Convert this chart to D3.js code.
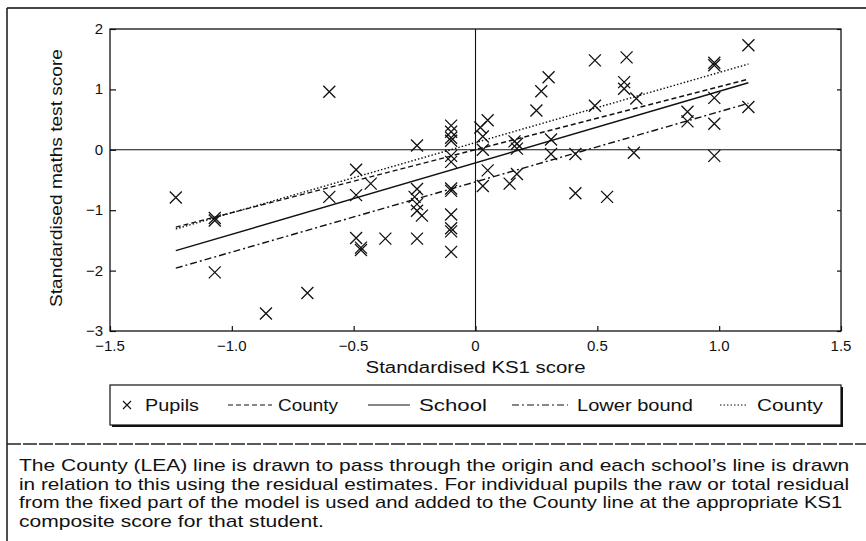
<!DOCTYPE html>
<html><head><meta charset="utf-8">
<script src="https://cdn.jsdelivr.net/npm/d3@7"></script>
<style>
body{margin:0;background:#fff}
svg{display:block}
text{font-family:"Liberation Sans",Arial,Helvetica,sans-serif;fill:#111}
</style>
</head><body>
<svg id="c" width="866" height="541"></svg>
<script>
// ---------- data ----------
const pupilsX = [-1.23,-1.07,-1.07,-1.07,-0.86,-0.69,-0.60,-0.60,-0.49,-0.49,-0.49,-0.47,-0.47,-0.43,-0.37,
  -0.24,-0.24,-0.25,-0.24,-0.24,-0.22,-0.24,
  -0.10,-0.10,-0.10,-0.10,-0.10,-0.10,-0.10,-0.10,-0.10,-0.10,-0.10,-0.10,
  0.05,0.02,0.03,0.03,0.05,0.03,
  0.16,0.17,0.17,0.17,0.14,
  0.30,0.27,0.25,0.31,0.31,
  0.41,0.41,0.49,0.49,0.54,
  0.62,0.61,0.61,0.66,0.65,
  0.87,0.87,0.98,0.98,0.98,0.98,0.98,1.12,1.12];
const pupilsY = [-0.79,-1.13,-1.17,-2.03,-2.71,-2.37,0.96,-0.78,-0.33,-0.75,-1.46,-1.62,-1.66,-0.56,-1.47,
  0.07,-0.65,-0.78,-0.90,-1.01,-1.09,-1.47,
  0.40,0.30,0.20,0.15,-0.10,-0.20,-0.64,-0.68,-1.07,-1.30,-1.35,-1.69,
  0.49,0.37,0.22,0.00,-0.34,-0.60,
  0.14,0.10,0.02,-0.40,-0.56,
  1.20,0.97,0.65,0.17,-0.07,
  -0.07,-0.72,1.48,0.73,-0.78,
  1.53,1.12,1.01,0.85,-0.05,
  0.63,0.47,1.44,1.40,0.86,0.43,-0.10,1.73,0.71];
const lineX    = [-1.23, 1.12];
const countyY  = [-1.28, 1.17];   // dashed
const schoolY  = [-1.67, 1.11];   // solid
const lowerY   = [-1.96, 0.77];   // dash-dot
const county2Y = [-1.31, 1.42];   // dotted
const xTicks = [-1.5,-1,-0.5,0,0.5,1,1.5];
const xTickLabels = ["\u22121.5","\u22121.0","\u22120.5","0","0.5","1.0","1.5"];
const yTicks = [2,1,0,-1,-2,-3];
const yTickLabels = ["2","1","0","\u22121","\u22122","\u22123"];
const legendLabels = ["Pupils","County","School","Lower bound","County"];
const xTitle = "Standardised KS1 score";
const yTitle = "Standardised maths test score";
const captionLines = [
  "The County (LEA) line is drawn to pass through the origin and each school\u2019s line is drawn",
  "in relation to this using the residual estimates. For individual pupils the raw or total residual",
  "from the fixed part of the model is used and added to the County line at the appropriate KS1",
  "composite score for that student."
];

// ---------- layout ----------
const svg = d3.select("#c");
const L = 110, R = 841, T = 29, B = 331;
const x = d3.scaleLinear().domain([-1.5,1.5]).range([L,R]);
const y = d3.scaleLinear().domain([-3,2]).range([B,T]);
const ink = "#111";

// stretched text helper
function stext(g, str, px, py, size, width, anchor, rotate, fixedScale){
  const t = g.append("text").attr("font-size", size).attr("text-anchor", anchor||"start").text(str);
  const nat = t.node().getComputedTextLength();
  const sx = fixedScale ? fixedScale : (width ? width/nat : 1);
  t.attr("transform", `translate(${px},${py})` + (rotate?` rotate(${rotate})`:"") + ` scale(${sx},1)`);
  return {t, sx};
}

// figure frame
svg.append("line").attr("x1",7).attr("x2",866).attr("y1",8).attr("y2",8).attr("stroke","#444").attr("stroke-width",2);
svg.append("line").attr("x1",7).attr("x2",7).attr("y1",8).attr("y2",541).attr("stroke","#222").attr("stroke-width",1.6);
svg.append("line").attr("x1",7).attr("x2",866).attr("y1",444).attr("y2",444).attr("stroke","#222").attr("stroke-width",1.6).attr("stroke-dasharray","14,2");

// plot frame
svg.append("rect").attr("x",L).attr("y",T).attr("width",R-L).attr("height",B-T).attr("fill","none").attr("stroke",ink).attr("stroke-width",1.3);

// axes (inner ticks)
const gxb = svg.append("g").attr("transform",`translate(0,${B})`)
  .call(d3.axisBottom(x).tickValues(xTicks).tickSizeInner(-5).tickSizeOuter(0).tickFormat(""));
const gyl = svg.append("g").attr("transform",`translate(${L},0)`)
  .call(d3.axisLeft(y).tickValues(yTicks).tickSizeInner(-6).tickSizeOuter(0).tickFormat(""));
const gyr = svg.append("g").attr("transform",`translate(${R},0)`)
  .call(d3.axisRight(y).tickValues(yTicks).tickSizeInner(-4).tickSizeOuter(0).tickFormat(""));
[gxb,gyl,gyr].forEach(g=>{g.select(".domain").remove(); g.selectAll("line").attr("stroke",ink).attr("stroke-width",1.2);});

// tick labels
xTicks.forEach((v,i)=>{ stext(svg, xTickLabels[i], x(v), B+20, 15, null, "middle"); });
yTicks.forEach((v,i)=>{ stext(svg, yTickLabels[i], 103, y(v)+5, 15, null, "end"); });

// zero reference lines
svg.append("line").attr("x1",x(0)).attr("x2",x(0)).attr("y1",T).attr("y2",B).attr("stroke",ink).attr("stroke-width",1.1);
svg.append("line").attr("x1",L).attr("x2",R).attr("y1",y(0)).attr("y2",y(0)).attr("stroke",ink).attr("stroke-width",1.1);

// axis titles
stext(svg, xTitle, x(0), 373, 16, 220, "middle");
stext(svg, yTitle, 62, 178, 16, 258, "middle", -90);

// regression lines
const lineGen = d3.line().x(d=>x(d[0])).y(d=>y(d[1]));
const series = [
  {ys: countyY, dash:"5,3"},
  {ys: schoolY, dash:null},
  {ys: lowerY, dash:"7,3,2,3"},
  {ys: county2Y, dash:"1.5,2"}
];
series.forEach(s=>{
  svg.append("path").datum(lineX.map((xv,i)=>[xv,s.ys[i]]))
    .attr("d",lineGen).attr("fill","none").attr("stroke",ink).attr("stroke-width",1.4)
    .attr("stroke-dasharray",s.dash);
});

// pupils crosses
const cr = 6;
const crossPath = `M${-cr},${-cr}L${cr},${cr}M${-cr},${cr}L${cr},${-cr}`;
svg.append("g").selectAll("path").data(pupilsX.map((v,i)=>[v,pupilsY[i]])).join("path")
  .attr("transform",d=>`translate(${x(d[0])},${y(d[1])})`)
  .attr("d",crossPath).attr("stroke",ink).attr("stroke-width",1.3).attr("fill","none");

// legend
const lg = svg.append("g");
lg.append("rect").attr("x",112).attr("y",387).attr("width",731).attr("height",40).attr("fill","#111");
lg.append("rect").attr("x",110).attr("y",385).attr("width",731).attr("height",40).attr("fill","#fff").attr("stroke",ink).attr("stroke-width",1.2);
const ly = 405;
const sc = 4;
lg.append("path").attr("d",`M${127-sc},${ly-sc}L${127+sc},${ly+sc}M${127-sc},${ly+sc}L${127+sc},${ly-sc}`).attr("stroke",ink).attr("stroke-width",1.1);
const legSym = [
  {x1:228,x2:272,dash:"5,3"},
  {x1:368,x2:410,dash:null},
  {x1:512,x2:568,dash:"7,3,2,3"},
  {x1:720,x2:748,dash:"1.5,2"}
];
legSym.forEach(s=>{
  lg.append("line").attr("x1",s.x1).attr("x2",s.x2).attr("y1",ly).attr("y2",ly).attr("stroke",ink).attr("stroke-width",1.2).attr("stroke-dasharray",s.dash);
});
const legText = [[145,54],[278,60],[419,68],[577,116],[757,66]];
legendLabels.forEach((s,i)=>{ stext(lg, s, legText[i][0], ly+6, 17, legText[i][1], "start"); });

// caption
const capW = [831, 831, 824];
const first = stext(svg, captionLines[0], 19, 471, 16, capW[0], "start");
stext(svg, captionLines[1], 19, 471+18.7, 16, capW[1], "start");
stext(svg, captionLines[2], 19, 471+2*18.7, 16, capW[2], "start");
stext(svg, captionLines[3], 19, 471+3*18.7, 16, null, "start", null, first.sx);
</script>
</body></html>
